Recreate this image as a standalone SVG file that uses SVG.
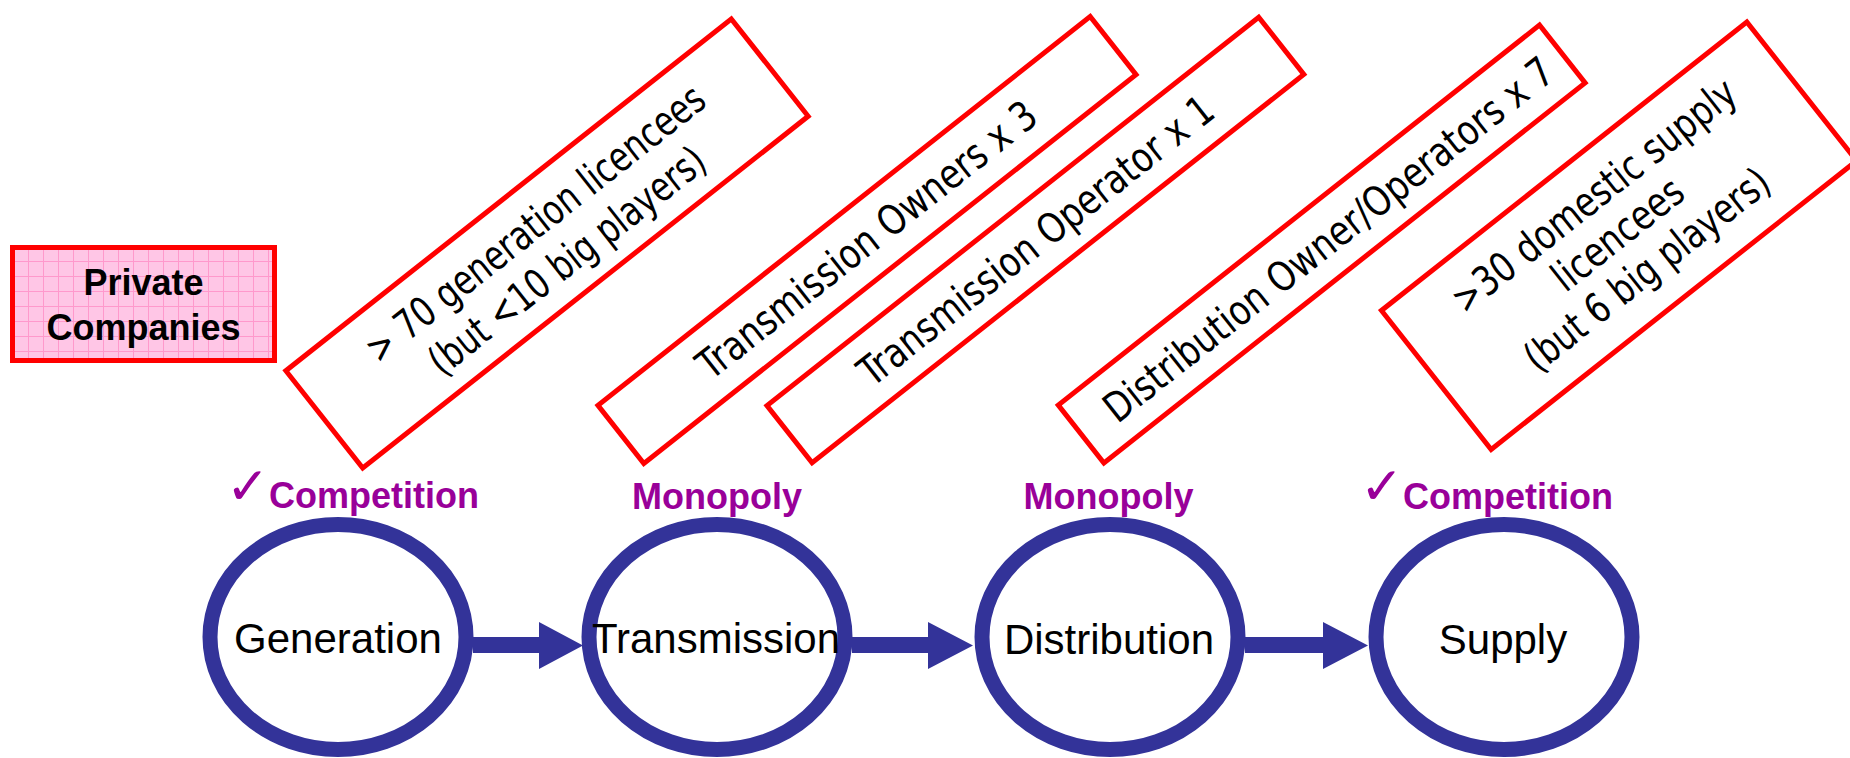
<svg xmlns="http://www.w3.org/2000/svg" width="1850" height="758" viewBox="0 0 1850 758">
  <style>
    .note rect { fill: #FFFFFF; stroke: #FF0000; stroke-width: 5; }
    .note text { font-family: "DejaVu Sans Condensed", "DejaVu Sans", sans-serif; font-size: 41px; fill: #000000; text-anchor: middle; }
    .stage ellipse { fill: #FFFFFF; stroke: #333399; stroke-width: 15; }
    .stage text { font-family: "Liberation Sans", Arial, sans-serif; font-size: 42px; fill: #000000; text-anchor: middle; }
    .tag { font-family: "Liberation Sans", Arial, sans-serif; font-size: 36px; font-weight: bold; fill: #990099; }
    .tick { font-family: "DejaVu Sans", sans-serif; font-size: 52px; fill: #990099; }
    .flow { fill: #333399; }
    .owner text { font-family: "Liberation Sans", Arial, sans-serif; font-size: 36px; font-weight: bold; fill: #000000; text-anchor: middle; }
  </style>
  <defs>
    <pattern id="grid" x="13" y="246" width="15" height="15" patternUnits="userSpaceOnUse">
      <rect width="15" height="15" fill="#FFC6E6"/>
      <path d="M0 0.5H15M0.5 0V15" stroke="#FF99CC" stroke-width="1" fill="none"/>
    </pattern>
  </defs>

  <rect width="1850" height="758" fill="#FFFFFF"/>

  <!-- ownership label -->
  <g id="private-companies" class="owner">
    <rect x="12.5" y="247.5" width="262" height="113" fill="url(#grid)" stroke="#FF0000" stroke-width="5"/>
    <text x="143.5" y="295">Private</text>
    <text x="143.5" y="340">Companies</text>
  </g>

  <!-- licence notes, tilted -->
  <g id="note-generation" class="note" transform="translate(547 243.5) rotate(-38.3)">
    <rect x="-283.8" y="-62" width="567.6" height="124"/>
    <text x="3" y="-9" textLength="420" lengthAdjust="spacingAndGlyphs">&gt; 70 generation licencees</text>
    <text x="5" y="40" textLength="340" lengthAdjust="spacingAndGlyphs">(but &lt;10 big players)</text>
  </g>
  <g id="note-transmission-owners" class="note" transform="translate(867 240) rotate(-38.3)">
    <rect x="-313.6" y="-37" width="627.2" height="74"/>
    <text x="0" y="14" textLength="420" lengthAdjust="spacingAndGlyphs">Transmission Owners x 3</text>
  </g>
  <g id="note-transmission-operator" class="note" transform="translate(1035.4 240) rotate(-38.3)">
    <rect x="-313.3" y="-36.4" width="626.6" height="72.8"/>
    <text x="0" y="15" textLength="440" lengthAdjust="spacingAndGlyphs">Transmission Operator x 1</text>
  </g>
  <g id="note-distribution" class="note" transform="translate(1321.7 244) rotate(-38.3)">
    <rect x="-306.6" y="-36.8" width="613.2" height="73.6"/>
    <text x="8" y="15" textLength="560" lengthAdjust="spacingAndGlyphs">Distribution Owner/Operators x 7</text>
  </g>
  <g id="note-supply" class="note" transform="translate(1619 235.7) rotate(-38.3)">
    <rect x="-232.8" y="-88.5" width="465.6" height="177"/>
    <text x="5" y="-33" textLength="350" lengthAdjust="spacingAndGlyphs">&gt;30 domestic supply</text>
    <text x="0" y="12" textLength="155" lengthAdjust="spacingAndGlyphs">licencees</text>
    <text x="1" y="58" textLength="300" lengthAdjust="spacingAndGlyphs">(but 6 big players)</text>
  </g>

  <!-- market type labels -->
  <g id="tags">
    <text class="tick" x="226" y="504">✓</text>
    <text class="tag" x="269" y="508">Competition</text>
    <text class="tag" x="717" y="509" text-anchor="middle">Monopoly</text>
    <text class="tag" x="1108.5" y="509" text-anchor="middle">Monopoly</text>
    <text class="tick" x="1360" y="504">✓</text>
    <text class="tag" x="1403" y="509">Competition</text>
  </g>

  <!-- value chain stages -->
  <g id="stage-generation" class="stage">
    <ellipse cx="338" cy="637" rx="128" ry="112.5"/>
    <text x="338" y="653">Generation</text>
  </g>
  <g id="stage-transmission" class="stage">
    <ellipse cx="717" cy="637" rx="128" ry="112.5"/>
    <text x="716" y="653">Transmission</text>
  </g>
  <g id="stage-distribution" class="stage">
    <ellipse cx="1110" cy="637" rx="128" ry="112.5"/>
    <text x="1109" y="654">Distribution</text>
  </g>
  <g id="stage-supply" class="stage">
    <ellipse cx="1504" cy="637" rx="128" ry="112.5"/>
    <text x="1503" y="654">Supply</text>
  </g>

  <!-- block arrows between stages -->
  <g id="connectors" class="flow">
    <path d="M473 637H539V622L583 645.5L539 669V653H473Z"/>
    <path d="M852 637H928V622L973 645.5L928 669V653H852Z"/>
    <path d="M1245 637H1323V622L1368 645.5L1323 669V653H1245Z"/>
  </g>
</svg>
